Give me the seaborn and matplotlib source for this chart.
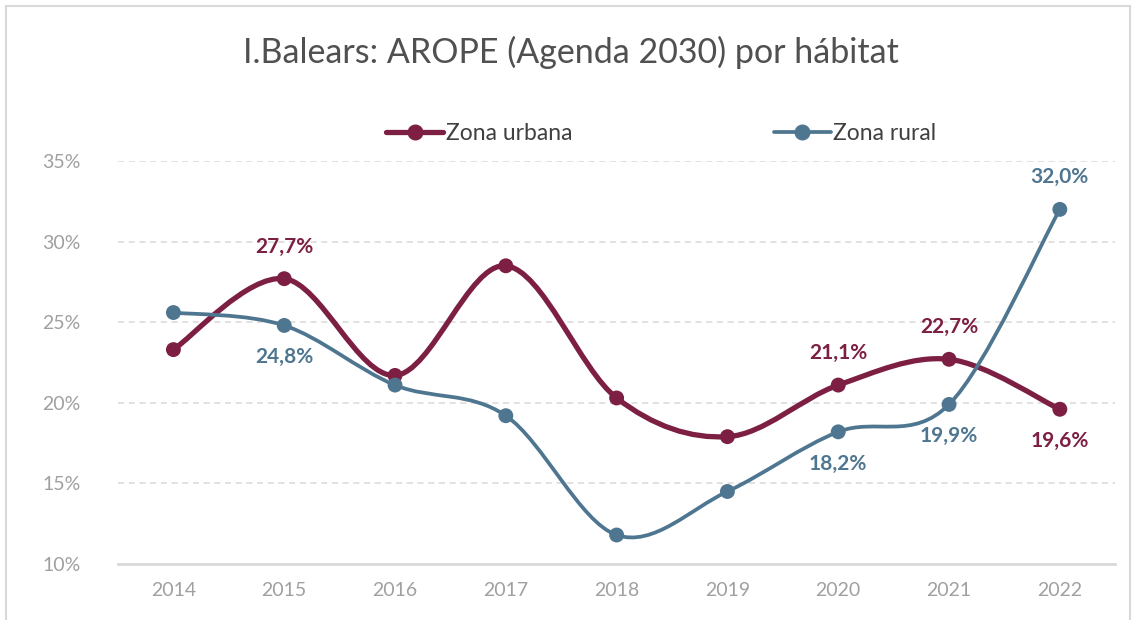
import numpy as np
import pandas as pd
import seaborn as sns
import matplotlib.pyplot as plt
from matplotlib.path import Path
from matplotlib.patches import PathPatch, Rectangle
from matplotlib.lines import Line2D

years = ["2014", "2015", "2016", "2017", "2018", "2019", "2020", "2021", "2022"]
urbana = [23.3, 27.7, 21.7, 28.5, 20.3, 17.9, 21.1, 22.7, 19.6]
rural = [25.6, 24.8, 21.1, 19.2, 11.8, 14.5, 18.2, 19.9, 32.0]

# which points carry a label, and where (+1 above, -1 below)
urbana_lbl = {1: 1, 6: 1, 7: 1, 8: -1}
rural_lbl = {1: -1, 6: -1, 7: -1, 8: 1}

c_urb = "#7C1F43"
c_rur = "#4F7690"
c_grey = "#A0A0A0"

sns.set_theme(style="white")
plt.rcParams['font.family'] = ['Lato', 'DejaVu Sans']


def smooth_path(ys):
    # excel-style smoothed line: cubic bezier segments through each point
    xs = np.arange(len(ys), dtype=float)
    pts = np.column_stack([xs, np.asarray(ys, dtype=float)])
    ext = np.vstack([pts[0], pts, pts[-1]])
    verts = [pts[0]]
    codes = [Path.MOVETO]
    for i in range(len(pts) - 1):
        p0, p1, p2, p3 = ext[i], ext[i + 1], ext[i + 2], ext[i + 3]
        verts += [p1 + (p2 - p0) / 6, p2 - (p3 - p1) / 6, p2]
        codes += [Path.CURVE4] * 3
    return Path(verts, codes)


df = pd.DataFrame({"pos": range(len(years)), "urbana": urbana, "rural": rural})

fig = plt.figure(figsize=(11.38, 6.2), dpi=100)
ax = fig.add_axes([0.1037, 0.0903, 0.8763, 0.65])

ax.add_patch(PathPatch(smooth_path(urbana), fill=False, edgecolor=c_urb, lw=3.8,
                       capstyle="round", zorder=3))
ax.add_patch(PathPatch(smooth_path(rural), fill=False, edgecolor=c_rur, lw=2.7,
                       capstyle="round", zorder=4))
sns.scatterplot(data=df, x="pos", y="urbana", color=c_urb, s=115, edgecolor="none",
                ax=ax, zorder=5)
sns.scatterplot(data=df, x="pos", y="rural", color=c_rur, s=115, edgecolor="none",
                ax=ax, zorder=6)

for vals, lbls, col in [(urbana, urbana_lbl, c_urb), (rural, rural_lbl, c_rur)]:
    for i, side in lbls.items():
        txt = f"{vals[i]:.1f}%".replace(".", ",")
        ax.annotate(txt, (i, vals[i]), xytext=(0, 23 * side), textcoords="offset points",
                    ha="center", va="center", fontsize=15, fontweight="bold", color=col)

ax.set_xlim(-0.5, len(years) - 0.5)
ax.set_ylim(10, 35)
ax.set_xticks(range(len(years)))
ax.set_xticklabels(years)
ax.set_yticks([10, 15, 20, 25, 30, 35])
ax.set_yticklabels([f"{v}%" for v in [10, 15, 20, 25, 30, 35]])
ax.tick_params(axis="both", colors=c_grey, labelsize=14, length=0)
ax.tick_params(axis="x", pad=13)
ax.tick_params(axis="y", pad=27)
ax.set_xlabel("")
ax.set_ylabel("")
for yv in [15, 20, 25, 30, 35]:
    ax.axhline(yv, color="#D9D9D9", lw=1.1, ls=(0, (4, 3)), zorder=1)
for s in ["top", "right", "left"]:
    ax.spines[s].set_visible(False)
ax.spines["bottom"].set_color("#D9D9D9")
ax.spines["bottom"].set_linewidth(2)

handles = [Line2D([], [], color=c_urb, lw=3.8, marker="o", markersize=10.5),
           Line2D([], [], color=c_rur, lw=2.7, marker="o", markersize=10.5)]
fig.legend(handles, ["Zona urbana", "Zona rural"], loc="center", bbox_to_anchor=(0.581, 0.785),
           ncol=2, frameon=False, fontsize=16.5, handlelength=2.5, handletextpad=0.1,
           columnspacing=8.8, labelcolor="#404040")

fig.text(0.502, 0.915, "I.Balears: AROPE (Agenda 2030) por hábitat", ha="center", va="center",
         fontsize=24.5, color="#505050")

fig.add_artist(Rectangle((0.005, -0.1), 0.988, 1.09, transform=fig.transFigure,
                         fill=False, edgecolor="#D9D9D9", lw=1.5))

fig.savefig("out.png", dpi=100)
